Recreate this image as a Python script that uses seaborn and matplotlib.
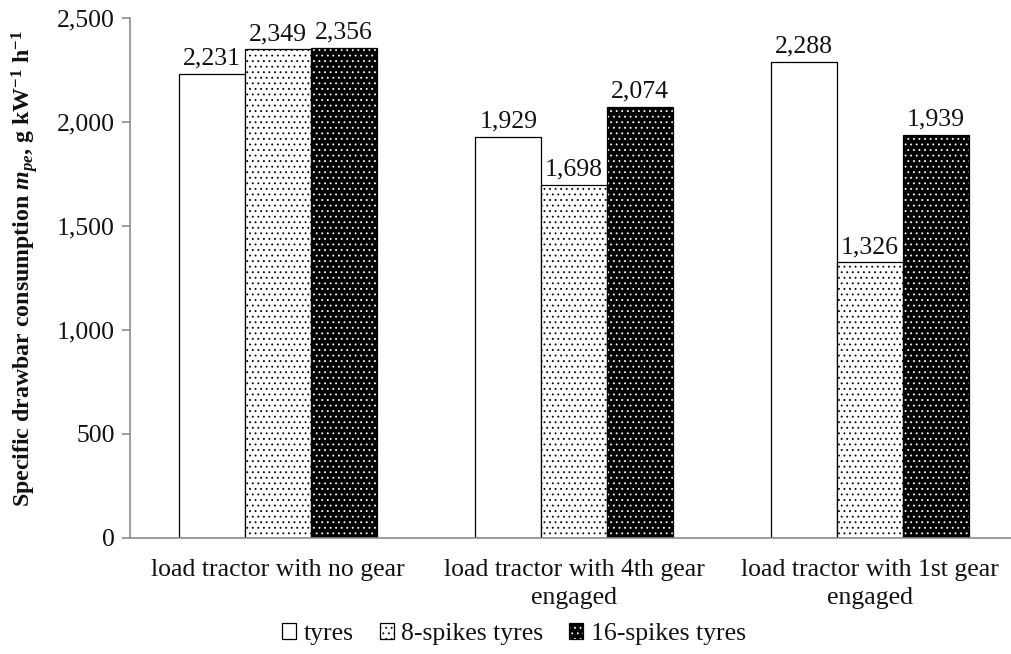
import matplotlib
matplotlib.use("Agg")
import matplotlib.pyplot as plt
from matplotlib.patches import Patch
from matplotlib.ticker import FuncFormatter, MultipleLocator
import seaborn as sns
import pandas as pd

# Data
conditions = ["load tractor with no gear",
              "load tractor with 4th gear\nengaged",
              "load tractor with 1st gear\nengaged"]
tyre_types = ["tyres", "8-spikes tyres", "16-spikes tyres"]
plain_tyres = [2231, 1929, 2288]
spikes_8 = [2349, 1698, 1326]
spikes_16 = [2356, 2074, 1939]

rows = []
for series, vals in zip(tyre_types, [plain_tyres, spikes_8, spikes_16]):
    for cond, v in zip(conditions, vals):
        rows.append({"condition": cond, "tyre": series, "value": v})
df = pd.DataFrame(rows)

sns.set_theme(style="white")
plt.rcParams["font.family"] = ["Liberation Serif", "DejaVu Serif"]
plt.rcParams["mathtext.fontset"] = "custom"
plt.rcParams["mathtext.rm"] = "Liberation Serif"
plt.rcParams["mathtext.it"] = "Liberation Serif:italic"
plt.rcParams["mathtext.bf"] = "Liberation Serif:bold"
plt.rcParams["mathtext.bfit"] = "Liberation Serif:italic:bold"
plt.rcParams["hatch.linewidth"] = 0.6

TXT = "#111111"
FS = 18.5

fig = plt.figure(figsize=(10.12, 6.54), dpi=100)
ax = fig.add_axes([130 / 1012, 1 - 538 / 654, 888 / 1012, 520 / 654])

face = ["white", "white", "black"]
hatch_col = ["black", "black", "white"]
hatches = [None, "...", "..."]

sns.barplot(data=df, x="condition", y="value", hue="tyre", order=conditions,
            hue_order=tyre_types, palette=face, edgecolor="black",
            linewidth=0.9, width=0.666, gap=0, ax=ax, legend=False,
            saturation=1)

for i, cont in enumerate(ax.containers):
    for p in cont:
        p.set_facecolor(face[i])
        p.set_edgecolor("black")
        if hatches[i]:
            p.set_hatch(hatches[i])
            p._hatch_color = matplotlib.colors.to_rgba(hatch_col[i])
    ax.bar_label(cont, labels=[f"{v:,.0f}" for v in cont.datavalues],
                 padding=3, fontsize=FS, color=TXT)

ax.set_xlim(-0.5, 2.5)
ax.set_ylim(0, 2500)
ax.yaxis.set_major_locator(MultipleLocator(500))
ax.yaxis.set_major_formatter(FuncFormatter(lambda v, _: f"{v:,.0f}"))

for side in ["top", "right"]:
    ax.spines[side].set_visible(False)
for side in ["left", "bottom"]:
    ax.spines[side].set_color("#8c8c8c")
    ax.spines[side].set_linewidth(1.2)

ax.tick_params(axis="y", which="major", left=True, length=6, width=1.2,
               color="#8c8c8c", labelsize=FS, pad=5, labelcolor=TXT)
ax.tick_params(axis="x", bottom=False, labelsize=FS, pad=9, labelcolor=TXT)
for lbl in ax.get_xticklabels():
    lbl.set_linespacing(1.35)
ax.set_xlabel("")
ax.set_ylabel(r"Specific drawbar consumption $\mathbfit{m}_{\mathbfit{pe}}$, "
              r"g kW$^{\mathbf{-1}}$ h$^{\mathbf{-1}}$",
              fontsize=17.2, fontweight="bold", color=TXT)
ax.yaxis.set_label_coords(-0.101, 0.518)

handles = []
for i, name in enumerate(tyre_types):
    h = Patch(facecolor=face[i], edgecolor="black", linewidth=0.9,
              hatch=hatches[i], label=name)
    handles.append(h)
leg = fig.legend(handles=handles, loc="center",
                 bbox_to_anchor=(514 / 1012, 1 - 634 / 654),
                 ncol=3, frameon=False, fontsize=FS, handlelength=0.55,
                 handleheight=0.55, handletextpad=0.3, columnspacing=1.0,
                 labelcolor=TXT)
for i, h in enumerate(leg.legend_handles):
    if hatches[i]:
        h._hatch_color = matplotlib.colors.to_rgba(hatch_col[i])

fig.savefig("out.png", dpi=100)
